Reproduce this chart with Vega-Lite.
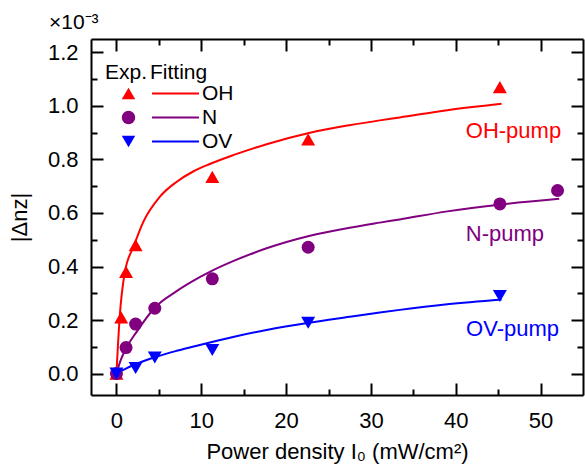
{
  "$schema": "https://vega.github.io/schema/vega-lite/v6.json",
  "width": 492,
  "height": 356,
  "autosize": {"type": "none"},
  "padding": {"left": 91, "top": 39, "right": 2, "bottom": 77},
  "background": "white",
  "config": {
    "font": "Liberation Sans",
    "view": {"stroke": null},
    "axis": {"domainColor": "black", "domainWidth": 2, "tickColor": "black", "tickWidth": 2, "labelColor": "black", "titleColor": "black", "labelFont": "Liberation Sans", "titleFont": "Liberation Sans", "grid": false},
    "legend": {"titleFontSize": 21, "titleFontWeight": "normal", "titleFont": "Liberation Sans", "titleColor": "black", "labelFontSize": 21, "labelFont": "Liberation Sans", "labelColor": "black", "rowPadding": 2, "titlePadding": 0}
  },
  "title": {"text": "×10⁻³", "anchor": "start", "frame": "group", "dx": -42, "fontSize": 21, "fontWeight": "normal", "font": "Liberation Sans", "color": "black", "baseline": "alphabetic", "offset": -12},
  "datasets": {
    "pts": [
      {"series": "OH", "x": 0, "y": 0},
      {"series": "OH", "x": 0.56, "y": 0.21},
      {"series": "OH", "x": 1.13, "y": 0.38},
      {"series": "OH", "x": 2.26, "y": 0.48},
      {"series": "OH", "x": 11.3, "y": 0.735},
      {"series": "OH", "x": 22.6, "y": 0.875},
      {"series": "OH", "x": 45.2, "y": 1.07},
      {"series": "N", "x": 0, "y": 0},
      {"series": "N", "x": 1.13, "y": 0.097},
      {"series": "N", "x": 2.26, "y": 0.185},
      {"series": "N", "x": 4.52, "y": 0.244},
      {"series": "N", "x": 11.3, "y": 0.354},
      {"series": "N", "x": 22.6, "y": 0.472},
      {"series": "N", "x": 45.2, "y": 0.634},
      {"series": "N", "x": 52, "y": 0.684},
      {"series": "OV", "x": 0, "y": 0},
      {"series": "OV", "x": 2.26, "y": 0.021},
      {"series": "OV", "x": 4.52, "y": 0.06},
      {"series": "OV", "x": 11.3, "y": 0.088},
      {"series": "OV", "x": 22.6, "y": 0.19},
      {"series": "OV", "x": 45.2, "y": 0.29}
    ],
    "fit": [
      {"curve": "OH fit", "x": 0, "y": 0},
      {"curve": "OH fit", "x": 0.39, "y": 0.215},
      {"curve": "OH fit", "x": 0.98, "y": 0.377},
      {"curve": "OH fit", "x": 2.04, "y": 0.476},
      {"curve": "OH fit", "x": 3.14, "y": 0.565},
      {"curve": "OH fit", "x": 5.1, "y": 0.66},
      {"curve": "OH fit", "x": 7.08, "y": 0.716},
      {"curve": "OH fit", "x": 9.04, "y": 0.755},
      {"curve": "OH fit", "x": 11.0, "y": 0.783},
      {"curve": "OH fit", "x": 13.75, "y": 0.816},
      {"curve": "OH fit", "x": 17.7, "y": 0.857},
      {"curve": "OH fit", "x": 22.7, "y": 0.899},
      {"curve": "OH fit", "x": 27.5, "y": 0.928},
      {"curve": "OH fit", "x": 31.05, "y": 0.946},
      {"curve": "OH fit", "x": 33.4, "y": 0.957},
      {"curve": "OH fit", "x": 39.0, "y": 0.984},
      {"curve": "OH fit", "x": 45.4, "y": 1.008},
      {"curve": "N fit", "x": 0, "y": 0},
      {"curve": "N fit", "x": 0.5, "y": 0.05},
      {"curve": "N fit", "x": 1.18, "y": 0.097},
      {"curve": "N fit", "x": 2.36, "y": 0.155},
      {"curve": "N fit", "x": 4.5, "y": 0.246},
      {"curve": "N fit", "x": 7.1, "y": 0.308},
      {"curve": "N fit", "x": 9.82, "y": 0.36},
      {"curve": "N fit", "x": 11.0, "y": 0.38},
      {"curve": "N fit", "x": 13.75, "y": 0.42},
      {"curve": "N fit", "x": 17.7, "y": 0.468},
      {"curve": "N fit", "x": 22.7, "y": 0.514},
      {"curve": "N fit", "x": 27.5, "y": 0.545},
      {"curve": "N fit", "x": 31.05, "y": 0.564},
      {"curve": "N fit", "x": 33.4, "y": 0.576},
      {"curve": "N fit", "x": 39.0, "y": 0.606},
      {"curve": "N fit", "x": 45.4, "y": 0.632},
      {"curve": "N fit", "x": 52.2, "y": 0.653},
      {"curve": "OV fit", "x": 0, "y": 0},
      {"curve": "OV fit", "x": 1.0, "y": 0.017},
      {"curve": "OV fit", "x": 2.16, "y": 0.034},
      {"curve": "OV fit", "x": 4.5, "y": 0.061},
      {"curve": "OV fit", "x": 7.1, "y": 0.085},
      {"curve": "OV fit", "x": 9.82, "y": 0.107},
      {"curve": "OV fit", "x": 13.75, "y": 0.137},
      {"curve": "OV fit", "x": 17.7, "y": 0.163},
      {"curve": "OV fit", "x": 22.7, "y": 0.19},
      {"curve": "OV fit", "x": 27.5, "y": 0.212},
      {"curve": "OV fit", "x": 31.05, "y": 0.228},
      {"curve": "OV fit", "x": 33.4, "y": 0.238},
      {"curve": "OV fit", "x": 39.0, "y": 0.259},
      {"curve": "OV fit", "x": 45.4, "y": 0.277}
    ],
    "lab": [
      {"s": "OH", "t": "OH-pump", "x": 46.8, "y": 0.905},
      {"s": "N", "t": "N-pump", "x": 45.8, "y": 0.52},
      {"s": "OV", "t": "OV-pump", "x": 46.7, "y": 0.165}
    ]
  },
  "resolve": {"axis": {"x": "independent", "y": "independent"}},
  "layer": [
    {
      "data": {"name": "fit"},
      "mark": {"type": "line", "strokeWidth": 2, "interpolate": "monotone"},
      "encoding": {
        "x": {"field": "x", "type": "quantitative",
          "scale": {"domain": [-3, 55], "nice": false, "zero": false},
          "axis": {"orient": "bottom", "values": [0, 5, 10, 15, 20, 25, 30, 35, 40, 45, 50],
            "labelExpr": "datum.value % 10 === 0 ? datum.label : ''",
            "tickSize": {"condition": {"test": "datum.value % 10 !== 0", "value": -6}, "value": -12},
            "labelPadding": 27, "labelFontSize": 22, "title": "Power density I₀ (mW/cm²)", "titleFontSize": 22, "titleFontWeight": "normal", "titlePadding": 10}},
        "y": {"field": "y", "type": "quantitative",
          "scale": {"domain": [-0.08, 1.25], "nice": false, "zero": false},
          "axis": {"orient": "left", "values": [0, 0.1, 0.2, 0.3, 0.4, 0.5, 0.6, 0.7, 0.8, 0.9, 1.0, 1.1, 1.2],
            "labelExpr": "round(datum.value*10) % 2 === 0 ? format(datum.value, '.1f') : ''",
            "tickSize": {"condition": {"test": "round(datum.value*10) % 2 !== 0", "value": -6}, "value": -12},
            "labelPadding": 25, "labelFontSize": 22, "title": "|Δnz|", "titleFontSize": 22, "titleFontWeight": "normal", "titlePadding": 16}},
        "stroke": {"field": "curve", "type": "nominal",
          "scale": {"domain": ["OH fit", "N fit", "OV fit"], "range": ["#ff0000", "#800080", "#0000ff"]},
          "legend": {"orient": "none", "legendX": 59, "legendY": 23, "title": "Fitting",
            "labelExpr": "replace(datum.label, ' fit', '')",
            "symbolType": "M-3,0L3,0", "symbolSize": 245, "symbolStrokeWidth": 2, "symbolOffset": 15, "labelOffset": 16}}
      }
    },
    {
      "data": {"name": "pts"},
      "mark": {"type": "point", "filled": true, "opacity": 1},
      "encoding": {
        "x": {"field": "x", "type": "quantitative",
          "axis": {"orient": "top", "values": [0, 5, 10, 15, 20, 25, 30, 35, 40, 45, 50], "labels": false, "title": null,
            "tickSize": {"condition": {"test": "datum.value % 10 !== 0", "value": -6}, "value": -12}}},
        "y": {"field": "y", "type": "quantitative",
          "axis": {"orient": "right", "values": [0, 0.1, 0.2, 0.3, 0.4, 0.5, 0.6, 0.7, 0.8, 0.9, 1.0, 1.1, 1.2], "labels": false, "title": null,
            "tickSize": {"condition": {"test": "round(datum.value*10) % 2 !== 0", "value": -6}, "value": -12}}},
        "fill": {"field": "series", "type": "nominal",
          "scale": {"domain": ["OH", "N", "OV"], "range": ["#ff0000", "#800080", "#0000ff"]},
          "legend": {"orient": "none", "legendX": 14, "legendY": 23, "title": "Exp.",
            "symbolSize": 180, "symbolOffset": 13, "labelOpacity": 0, "symbolOpacity": 1}},
        "shape": {"field": "series", "type": "nominal",
          "scale": {"domain": ["OH", "N", "OV"], "range": ["triangle-up", "circle", "triangle-down"]}},
        "size": {"condition": {"test": "datum.series === 'N'", "value": 169}, "value": 196}
      }
    },
    {
      "data": {"name": "lab"},
      "mark": {"type": "text", "fontSize": 22, "font": "Liberation Sans", "align": "center", "baseline": "middle"},
      "encoding": {
        "x": {"field": "x", "type": "quantitative", "axis": null},
        "y": {"field": "y", "type": "quantitative", "axis": null},
        "text": {"field": "t"},
        "color": {"condition": [{"test": "datum.s === 'OH'", "value": "#ff0000"}, {"test": "datum.s === 'N'", "value": "#800080"}], "value": "#0000ff"}
      }
    }
  ]
}
